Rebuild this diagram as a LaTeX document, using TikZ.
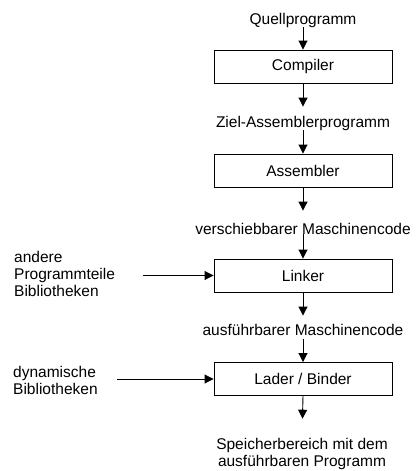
\documentclass[tikz,border=0pt]{standalone}
\usepackage{fontspec}
\setmainfont{Liberation Sans}
\usetikzlibrary{arrows.meta}
\begin{document}
\begin{tikzpicture}[x=1pt,y=-1pt,
  font=\fontsize{15.5}{17}\selectfont,
  stage/.style={draw,line width=0.9pt,minimum width=178pt,minimum height=33pt,inner sep=0pt},
  lbl/.style={inner sep=0pt,align=center},
  side/.style={inner sep=0pt,align=left,anchor=north west},
  arr/.style={line width=0.9pt,-{Triangle[length=9pt,width=9pt]}}]
\useasboundingbox (0,0) rectangle (416,471);

% main chain: source text, translation stages, intermediate products
\node[lbl,anchor=base] (q) at (303,24) {Quellprogramm};
\node[stage] (comp) at (303,66.5) {Compiler};
\node[lbl,anchor=base] (ziel) at (303,127) {Ziel-Assemblerprogramm};
\node[stage] (asm) at (303,170.5) {Assembler};
\node[lbl,anchor=base] (vm) at (303,234) {verschiebbarer Maschinencode};
\node[stage] (link) at (303,275.5) {Linker};
\node[lbl,anchor=base] (am) at (303,335) {ausführbarer Maschinencode};
\node[stage] (lader) at (303,379) {Lader / Binder};
\node[lbl,anchor=north] (sp) at (302,437.7) {Speicherbereich mit dem\\ausführbaren Programm};

% additional inputs from the left
\node[side] (lib1) at (14,250.7) {andere\\Programmteile\\Bibliotheken};
\node[side] (lib2) at (13,365.7) {dynamische\\Bibliotheken};
\coordinate (in1) at (143,275.5);
\coordinate (in2) at (117,379);

% connectors
\draw[arr] (q.south) -- (comp.north);
\draw[arr, shorten >=9pt] (comp.south) -- (ziel.north);
\draw[arr] (ziel.south) -- (asm.north);
\draw[arr, shorten >=12pt] (asm.south) -- (vm.north);
\draw[arr] (vm.south) -- (link.north);
\draw[arr, shorten >=8pt] (link.south) -- (am.north);
\draw[arr, shorten <=4pt] (am.south) -- (lader.north);
\draw[arr, shorten >=19pt] (lader.south) -- (sp.north);
\draw[arr] (in1) -- (link.west);
\draw[arr] (in2) -- (lader.west);
\end{tikzpicture}
\end{document}
